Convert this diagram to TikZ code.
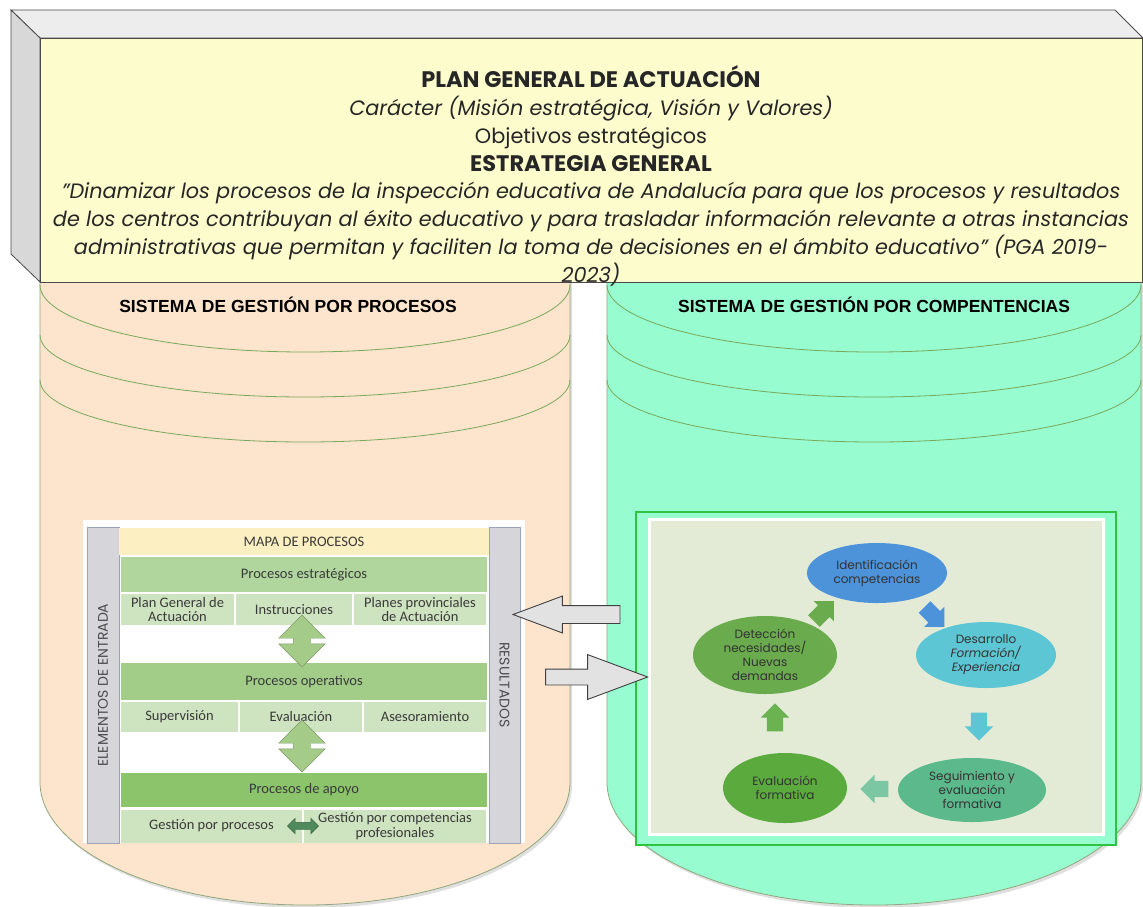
\documentclass[tikz,border=0pt]{standalone}
\usepackage{fontspec}
\setmainfont{Poppins}
\newfontfamily\titlefont{Liberation Sans}
\newfontfamily\mapfont{Carlito}
\newfontfamily\cyclefont{Poppins}
\usetikzlibrary{shapes.geometric,shapes.arrows,calc,shadows}

\definecolor{boxfront}{HTML}{FDFCCD}
\definecolor{boxtop}{HTML}{EDEDED}
\definecolor{boxside}{HTML}{D8D8D8}
\definecolor{boxedge}{HTML}{4A4A4A}
\definecolor{cylL}{HTML}{FDE4CD}
\definecolor{cylR}{HTML}{97FCCF}
\definecolor{cylline}{HTML}{8FA77A}
\definecolor{arcline}{HTML}{78A85A}
\definecolor{barfill}{HTML}{D5D5DA}
\definecolor{barline}{HTML}{9AA3B8}
\definecolor{headyellow}{HTML}{FCEFC2}
\definecolor{bandA}{HTML}{B1D69D}
\definecolor{bandB}{HTML}{A2CD89}
\definecolor{bandC}{HTML}{8BC46A}
\definecolor{cellgreen}{HTML}{CEE3BF}
\definecolor{maptext}{HTML}{3A3A3A}
\definecolor{arrowlight}{HTML}{A5CB88}
\definecolor{arrowdark}{HTML}{4F8A5C}
\definecolor{cyclegreen}{HTML}{2FC43F}
\definecolor{cyclebg}{HTML}{E3EBD7}
\definecolor{faseA}{HTML}{4D93D9}
\definecolor{faseB}{HTML}{5CC6D4}
\definecolor{faseC}{HTML}{5BB98C}
\definecolor{faseD}{HTML}{5AAA3E}
\definecolor{faseE}{HTML}{69AB4D}
\definecolor{grayfill}{HTML}{E2E2E2}

\begin{document}
\begin{tikzpicture}[x=1pt,y=-1pt,
    cell/.style={fill=cellgreen, minimum height=31, inner sep=0, align=center, font=\mapfont\fontsize{14.5}{14.5}\selectfont, text=maptext},
    bar/.style={fill=barfill, draw=barline, line width=.6pt, inner sep=0, font=\cyclefont\fontsize{14}{14}\selectfont, text=black!70},
    fase/.style={ellipse, inner sep=0, align=center, font=\cyclefont\fontsize{12}{14}\selectfont, text=black!80},
    ciclarrow/.style={single arrow, text height=0pt, text depth=0pt, inner xsep=0, inner ysep=8pt, single arrow head extend=6pt, single arrow tip angle=90, minimum height=28},
    maparrow/.style={double arrow, fill=arrowlight, draw=arrowlight!75!black, line width=.4pt, text height=0pt, text depth=0pt, inner xsep=0, inner ysep=8.5pt, double arrow head extend=14.5pt, double arrow tip angle=90, minimum height=52, rotate=90},
    grayarrow/.style={single arrow, fill=grayfill, draw=black!75, line width=.9pt, text height=0pt, text depth=0pt, inner xsep=0, single arrow tip angle=41}]
    \useasboundingbox (0,0) rectangle (1143,906);

    % cylinders
    \fill[cylL, drop shadow={shadow xshift=2pt, shadow yshift=-3pt, opacity=.25}] (40,270) -- (40,782) arc[start angle=180, end angle=0, x radius=265, y radius=123] -- (570,270) -- cycle;
    \draw[cylline, line width=.8pt] (40,270) -- (40,782) arc[start angle=180, end angle=0, x radius=265, y radius=123] -- (570,270);
    \fill[cylR, drop shadow={shadow xshift=2pt, shadow yshift=-3pt, opacity=.25}] (607,270) -- (607,782) arc[start angle=180, end angle=0, x radius=267, y radius=123] -- (1141,270) -- cycle;
    \draw[cylline, line width=.8pt] (607,270) -- (607,782) arc[start angle=180, end angle=0, x radius=267, y radius=123] -- (1141,270);
    \foreach \y/\r in {285/67, 335/62, 380/62} {
        \draw[arcline, line width=.8pt] (40,\y) arc[start angle=180, end angle=0, x radius=265, y radius=\r];
        \draw[arcline, line width=.8pt] (607,\y) arc[start angle=180, end angle=0, x radius=267, y radius=\r];
    }

    % plan general box
    \filldraw[boxedge, line width=.8pt, fill=boxtop] (11,10) -- (1115,10) -- (1143,38) -- (40,38) -- cycle;
    \filldraw[boxedge, line width=.8pt, fill=boxside] (11,10) -- (40,38) -- (40,282) -- (11,254) -- cycle;
    \node[draw=boxedge, line width=.8pt, fill=boxfront, minimum width=1102, minimum height=244, inner sep=0, anchor=north west] (pga) at (40,38) {};
    \node[align=center, font=\fontsize{20.8}{27.8}\selectfont, text=black!85] (pgatxt) at (591,176) {{\fontsize{22.5}{27.8}\selectfont\bfseries PLAN GENERAL DE ACTUACIÓN}\\
        \textit{Carácter (Misión estratégica, Visión y Valores)}\\
        Objetivos estratégicos\\
        {\fontsize{22.5}{27.8}\selectfont\bfseries ESTRATEGIA GENERAL}\\
        \textit{\char34 Dinamizar los procesos de la inspección educativa de Andalucía para que los procesos y resultados}\\
        \textit{de los centros contribuyan al éxito educativo y para trasladar información relevante a otras instancias}\\
        \textit{administrativas que permitan y faciliten la toma de decisiones en el ámbito educativo\char34{} (PGA 2019-}\\
        \textit{2023)}};

    \node[font=\titlefont\bfseries\fontsize{17.5}{20}\selectfont] (tituloP) at (288,305) {SISTEMA DE GESTIÓN POR PROCESOS};
    \node[font=\titlefont\bfseries\fontsize{17.5}{20}\selectfont] (tituloC) at (874,305) {SISTEMA DE GESTIÓN POR COMPENTENCIAS};

    % mapa de procesos
    \node[fill=white, minimum width=442, minimum height=323, inner sep=0] (mapa) at (304,681.5) {};
    \node[bar, rotate=90, minimum width=316, minimum height=32] (entrada) at (103,685) {ELEMENTOS DE ENTRADA};
    \node[bar, rotate=-90, minimum width=316, minimum height=31] (resultados) at (504.5,685) {RESULTADOS};
    \node[cell, fill=headyellow, minimum width=370, minimum height=27] (cabecera) at (304,541.5) {MAPA DE PROCESOS};
    \node[cell, fill=bandA, minimum width=366, minimum height=35] (estrat) at (304,574.5) {Procesos estratégicos};
    \node[cell, minimum width=113] (pgac) at (177.5,609.5) {Plan General de\\Actuación};
    \node[cell, minimum width=116] (instr) at (294,609.5) {Instrucciones};
    \node[cell, minimum width=132] (planes) at (420,609.5) {Planes provinciales\\de Actuación};
    \node[cell, fill=bandB, minimum width=366, minimum height=37] (oper) at (304,681.5) {Procesos operativos};
    \node[cell, minimum width=117, minimum height=30] (superv) at (179.5,717) {Supervisión};
    \node[cell, minimum width=122, minimum height=30] (evalu) at (301,717) {Evaluación};
    \node[cell, minimum width=122, minimum height=30] (asesor) at (425,717) {Asesoramiento};
    \node[cell, fill=bandC, minimum width=366, minimum height=34] (apoyo) at (304,790) {Procesos de apoyo};
    \node[cell, minimum width=181, minimum height=33] (gproc) at (211.5,826) {Gestión por procesos};
    \node[cell, minimum width=182, minimum height=33] (gcomp) at (395,826) {Gestión por competencias\\profesionales};
    \node[maparrow] (flechaA) at (302,641) {};
    \node[maparrow] (flechaB) at (302,746) {};
    \node[double arrow, fill=arrowdark, draw=arrowdark!70!black, line width=.4pt, text height=0pt, text depth=0pt, inner xsep=0, inner ysep=3.5pt, double arrow head extend=4pt, double arrow tip angle=90, minimum height=31] (flechaC) at ($(gproc.east)!0.5!(gcomp.west)$) {};

    % ciclo de competencias
    \node[draw=cyclegreen, line width=1.2pt, fill=cylR, minimum width=480, minimum height=333, inner sep=0] (ciclo) at (876,678.5) {};
    \node[draw=white, line width=3pt, fill=cyclebg, minimum width=454, minimum height=315, inner sep=0] (fondo) at (876,676.5) {};
    \node[fase, fill=faseA, minimum width=140, minimum height=60] (ident) at (877,573) {Identificación\\competencias};
    \node[fase, fill=faseB, minimum width=140, minimum height=66] (desarr) at (986,655) {Desarrollo\\\textit{Formación/}\\\textit{Experiencia}};
    \node[fase, fill=faseC, minimum width=148, minimum height=64] (segui) at (972,790) {Seguimiento y\\evaluación\\formativa};
    \node[fase, fill=faseD, minimum width=124, minimum height=70] (evalf) at (785,788) {Evaluación\\formativa};
    \node[fase, fill=faseE, minimum width=144, minimum height=78] (detecc) at (765,655) {Detección\\necesidades/\\Nuevas\\demandas};
    \node[ciclarrow, fill=faseE, rotate=45] (c1) at ($(detecc)!0.5!(ident)$) {};
    \node[ciclarrow, fill=faseA, rotate=-45] (c2) at ($(ident)!0.5!(desarr)$) {};
    \node[ciclarrow, fill=faseB, rotate=-90] (c3) at ($(desarr)!0.5!(segui)$) {};
    \node[ciclarrow, fill=faseC!80!white, rotate=180] (c4) at ($(segui)!0.5!(evalf)$) {};
    \node[ciclarrow, fill=faseD!90!white, rotate=90] (c5) at ($(evalf)!0.5!(detecc)$) {};

    % flechas entre sistemas
    \node[grayarrow, minimum height=107, inner ysep=8.5pt, single arrow head extend=9.5pt, rotate=180] (flechaI) at (578.5,614.5) {};
    \node[grayarrow, minimum height=102, inner ysep=7.5pt, single arrow head extend=14.5pt] (flechaD) at (586,677) {};
\end{tikzpicture}
\end{document}
